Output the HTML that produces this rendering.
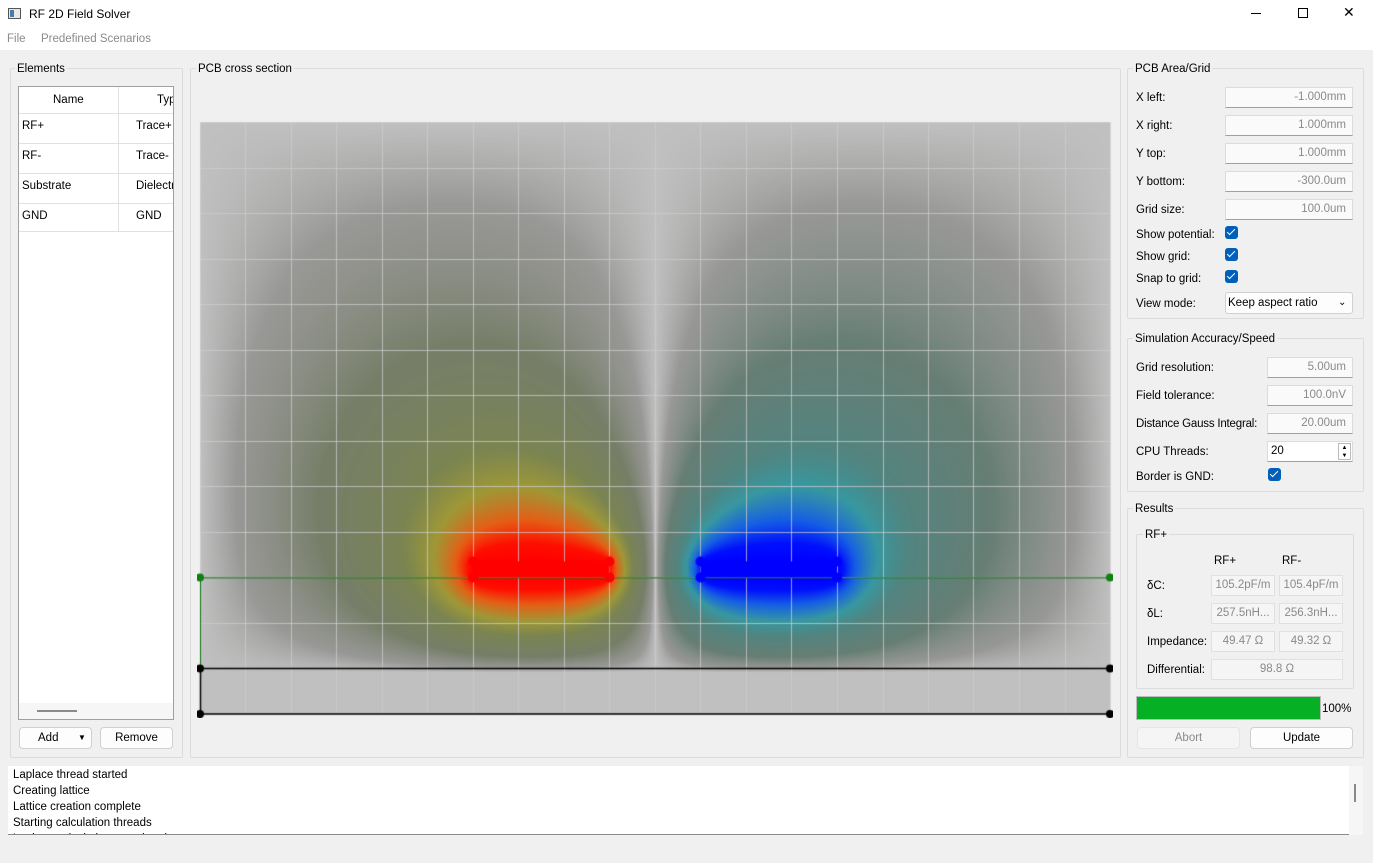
<!DOCTYPE html>
<html><head><meta charset="utf-8">
<style>
*{box-sizing:border-box}
body{margin:0;width:1373px;height:863px;background:#f0f0f0;font-family:"Liberation Sans",sans-serif;font-size:11.5px;color:#000;position:relative;overflow:hidden}
.a{position:absolute}
.grp{position:absolute;border:1px solid #dcdcdc;border-radius:2px}
.gt{position:absolute;background:#f0f0f0;padding:0 2px;font-size:11.5px;line-height:14px}
.inp{position:absolute;height:21px;border:1px solid #dcdcdc;background:#fafafa;color:#8a8a8a;text-align:right;padding:3px 6px 0 0;font-size:11.5px;border-bottom:1px solid #a0a0a0}
.lbl{position:absolute;font-size:11.5px;line-height:14px}
.cb{position:absolute;width:13px;height:13px;background:#005fb8;border-radius:3px}
.cb:after{content:"";position:absolute;left:4px;top:1px;width:3px;height:7px;border:solid #fff;border-width:0 1.5px 1.5px 0;transform:rotate(45deg)}
.btn{position:absolute;height:22px;border:1px solid #d0d0d0;border-radius:4px;background:#fdfdfd;text-align:center;line-height:20px;font-size:11.5px}
.res{position:absolute;height:21px;width:64px;border:1px solid #e0e0e0;background:#f5f5f5;color:#8a8a8a;text-align:center;line-height:19px;white-space:nowrap;overflow:hidden}
</style></head><body>
<div class="a" style="left:0;top:0;width:1373px;height:29px;background:#fff">
  <div class="a" style="left:8px;top:8px;width:13px;height:11px;border:1px solid #555;background:#e8e8e8"><div class="a" style="left:1px;top:1px;width:4px;height:7px;background:#4a7aa8"></div></div>
  <div class="a" style="left:29px;top:7px;font-size:12px">RF 2D Field Solver</div>
  <div class="a" style="left:1251px;top:13px;width:10px;height:1px;background:#000"></div>
  <div class="a" style="left:1298px;top:8px;width:10px;height:10px;border:1px solid #000"></div>
  <div class="a" style="left:1343px;top:4px;font-size:14px">✕</div>
</div>
<div class="a" style="left:0;top:29px;width:1373px;height:21px;background:#fff">
  <div class="a" style="left:7px;top:4px;color:#8a8a8a">File</div>
  <div class="a" style="left:41px;top:4px;color:#8a8a8a">Predefined Scenarios</div>
</div>

<!-- Elements -->
<div class="grp" style="left:10px;top:68px;width:173px;height:690px"></div>
<div class="gt" style="left:15px;top:62px">Elements</div>
<div class="a" style="left:18px;top:86px;width:156px;height:634px;background:#fff;border:1px solid #a0a0a0;overflow:hidden;white-space:nowrap">
  <div class="a" style="left:0;top:0;width:156px;height:27px;border-bottom:1px solid #e0e0e0"></div>
  <div class="a" style="left:99px;top:0;width:1px;height:145px;background:#e0e0e0"></div>
  <div class="a" style="left:34px;top:7px">Name</div>
  <div class="a" style="left:138px;top:7px">Typ</div>
  <div class="a" style="left:0;top:27px;width:156px;height:30px;border-bottom:1px solid #e0e0e0"><span class="a" style="left:3px;top:6px">RF+</span><span class="a" style="left:117px;top:6px">Trace+</span></div>
  <div class="a" style="left:0;top:57px;width:156px;height:30px;border-bottom:1px solid #e0e0e0"><span class="a" style="left:3px;top:6px">RF-</span><span class="a" style="left:117px;top:6px">Trace-</span></div>
  <div class="a" style="left:0;top:87px;width:156px;height:30px;border-bottom:1px solid #e0e0e0"><span class="a" style="left:3px;top:6px">Substrate</span><span class="a" style="left:117px;top:6px">Dielectric</span></div>
  <div class="a" style="left:0;top:117px;width:156px;height:28px;border-bottom:1px solid #e0e0e0"><span class="a" style="left:3px;top:6px">GND</span><span class="a" style="left:117px;top:6px">GND</span></div>
  <div class="a" style="left:0;top:616px;width:156px;height:16px;background:#f6f6f6"><div class="a" style="left:18px;top:7px;width:40px;height:2px;background:#8a8a8a"></div></div>
</div>
<div class="btn" style="left:19px;top:727px;width:73px;text-align:left;padding-left:18px">Add<span class="a" style="left:58px;top:0;font-size:8px">▼</span></div>
<div class="btn" style="left:100px;top:727px;width:73px">Remove</div>

<!-- PCB cross section -->
<div class="grp" style="left:190px;top:68px;width:931px;height:690px"></div>
<div class="gt" style="left:196px;top:62px">PCB cross section</div>
<canvas id="cv" class="a" width="916" height="600" style="left:197px;top:118px"></canvas>

<!-- PCB Area/Grid -->
<div class="grp" style="left:1127px;top:68px;width:237px;height:251px"></div>
<div class="gt" style="left:1133px;top:62px">PCB Area/Grid</div>
<div class="lbl" style="left:1136px;top:91px">X left:</div>
<div class="inp" style="left:1225px;top:87px;width:128px">-1.000mm</div>
<div class="lbl" style="left:1136px;top:119px">X right:</div>
<div class="inp" style="left:1225px;top:115px;width:128px">1.000mm</div>
<div class="lbl" style="left:1136px;top:147px">Y top:</div>
<div class="inp" style="left:1225px;top:143px;width:128px">1.000mm</div>
<div class="lbl" style="left:1136px;top:175px">Y bottom:</div>
<div class="inp" style="left:1225px;top:171px;width:128px">-300.0um</div>
<div class="lbl" style="left:1136px;top:203px">Grid size:</div>
<div class="inp" style="left:1225px;top:199px;width:128px">100.0um</div>
<div class="lbl" style="left:1136px;top:228px">Show potential:</div>
<div class="cb" style="left:1225px;top:226px"></div>
<div class="lbl" style="left:1136px;top:250px">Show grid:</div>
<div class="cb" style="left:1225px;top:248px"></div>
<div class="lbl" style="left:1136px;top:272px">Snap to grid:</div>
<div class="cb" style="left:1225px;top:270px"></div>
<div class="lbl" style="left:1136px;top:297px">View mode:</div>
<div class="btn" style="left:1225px;top:292px;width:128px;height:22px;text-align:left;padding-left:2px;line-height:20px;border-radius:3px">Keep aspect ratio<span class="a" style="left:112px;top:0;font-size:10px">⌄</span></div>

<!-- Simulation -->
<div class="grp" style="left:1127px;top:338px;width:237px;height:154px"></div>
<div class="gt" style="left:1133px;top:332px">Simulation Accuracy/Speed</div>
<div class="lbl" style="left:1136px;top:361px">Grid resolution:</div>
<div class="inp" style="left:1267px;top:357px;width:86px">5.00um</div>
<div class="lbl" style="left:1136px;top:389px">Field tolerance:</div>
<div class="inp" style="left:1267px;top:385px;width:86px">100.0nV</div>
<div class="lbl" style="left:1136px;top:417px;letter-spacing:-0.2px">Distance Gauss Integral:</div>
<div class="inp" style="left:1267px;top:413px;width:86px">20.00um</div>
<div class="lbl" style="left:1136px;top:445px">CPU Threads:</div>
<div class="inp" style="left:1267px;top:441px;width:86px;text-align:left;padding-left:3px;color:#000;background:#fff">20<span class="a" style="left:70px;top:1px;width:13px;height:17px;border:1px solid #bbb;font-size:6px;line-height:8px;text-align:center">▲<br>▼</span></div>
<div class="lbl" style="left:1136px;top:470px">Border is GND:</div>
<div class="cb" style="left:1268px;top:468px"></div>

<!-- Results -->
<div class="grp" style="left:1127px;top:508px;width:237px;height:250px"></div>
<div class="gt" style="left:1133px;top:502px">Results</div>
<div class="grp" style="left:1136px;top:534px;width:218px;height:155px"></div>
<div class="gt" style="left:1143px;top:528px">RF+</div>
<div class="lbl" style="left:1214px;top:554px">RF+</div>
<div class="lbl" style="left:1282px;top:554px">RF-</div>
<div class="lbl" style="left:1147px;top:579px">δC:</div>
<div class="res" style="left:1211px;top:575px">105.2pF/m</div>
<div class="res" style="left:1279px;top:575px">105.4pF/m</div>
<div class="lbl" style="left:1147px;top:607px">δL:</div>
<div class="res" style="left:1211px;top:603px">257.5nH...</div>
<div class="res" style="left:1279px;top:603px">256.3nH...</div>
<div class="lbl" style="left:1147px;top:635px">Impedance:</div>
<div class="res" style="left:1211px;top:631px">49.47 Ω</div>
<div class="res" style="left:1279px;top:631px">49.32 Ω</div>
<div class="lbl" style="left:1147px;top:663px">Differential:</div>
<div class="res" style="left:1211px;top:659px;width:132px">98.8 Ω</div>
<div class="a" style="left:1136px;top:696px;width:185px;height:24px;border:1px solid #bcbcbc;background:#06b025"></div>
<div class="lbl" style="left:1322px;top:702px">100%</div>
<div class="btn" style="left:1137px;top:727px;width:103px;background:#f5f5f5;border-color:#e5e5e5;color:#8a8a8a">Abort</div>
<div class="btn" style="left:1250px;top:727px;width:103px">Update</div>

<!-- Log -->
<div class="a" style="left:8px;top:766px;width:1341px;height:69px;background:#fff;border-bottom:1px solid #8a8a8a;overflow:hidden;line-height:16px;padding:1px 0 0 5px">
Laplace thread started<br>Creating lattice<br>Lattice creation complete<br>Starting calculation threads<br>Laplace calculation completed</div>
<div class="a" style="left:1349px;top:766px;width:14px;height:69px;background:#f6f6f6"><div class="a" style="left:5px;top:18px;width:2px;height:18px;background:#8a8a8a"></div></div>

<script>
// Geometry (mm)
const xRange=[-1,1];
const yRange=[1.0,-0.3];
const traceNames=['RF+','RF-'];
const traceX0=[-0.4,0.1];
const traceX1=[-0.1,0.4];
const traceY0=[0,0];
const traceY1=[0.035,0.035];
const tracePot=[1,-1];
const dielectricTop=0;
const gndTop=-0.2;
const gndBottom=-0.3;
const gridStep=0.1;

const cv=document.getElementById('cv');
const ctx=cv.getContext('2d');
const OX=197,OY=118;
const PX0=200-OX,PX1=1110-OX,PY0=122-OY,PY1=714-OY;
function sx(x){return PX0+(x-xRange[0])/(xRange[1]-xRange[0])*(PX1-PX0);}
function sy(y){return PY0+(yRange[0]-y)/(yRange[0]-yRange[1])*(PY1-PY0);}

// Solve Laplace on coarse grid
const C=5;
const NX=Math.round((PX1-PX0)/C)+1, NY=Math.round((PY1-PY0)/C)+1;
const V=new Float32Array(NX*NY), fixed=new Uint8Array(NX*NY);
for(let j=0;j<NY;j++)for(let i=0;i<NX;i++){
  const px=PX0+i*C,py=PY0+j*C,k=j*NX+i;
  if(i==0||j==0||i==NX-1||j==NY-1||py>=sy(gndTop)){fixed[k]=1;V[k]=0;continue;}
  for(let t=0;t<traceNames.length;t++){
    if(px>=sx(traceX0[t])&&px<=sx(traceX1[t])&&py>=sy(traceY1[t])-1&&py<=sy(traceY0[t])+1){fixed[k]=1;V[k]=tracePot[t];}
  }
}
for(let it=0;it<900;it++){
  for(let j=1;j<NY-1;j++)for(let i=1;i<NX-1;i++){
    const k=j*NX+i;if(fixed[k])continue;
    const n=(V[k-1]+V[k+1]+V[k-NX]+V[k+NX])*0.25;
    V[k]+=1.9*(n-V[k]);
  }
}
const posMap=[[0,192,192,192],[0.04,152,152,150],[0.15,118,126,104],[0.35,122,132,82],[0.5,158,152,55],[0.68,228,95,22],[0.85,255,15,0],[1,255,0,0]];
const negMap=[[0,192,192,192],[0.04,152,152,150],[0.15,102,126,116],[0.35,82,132,128],[0.5,55,152,160],[0.68,22,95,228],[0.85,0,15,255],[1,0,0,255]];
function cmap(v){
  const m=v>=0?posMap:negMap;const a=Math.min(1,Math.abs(v));
  for(let i=1;i<m.length;i++){if(a<=m[i][0]){const f=(a-m[i-1][0])/(m[i][0]-m[i-1][0]);
    return [0,1,2].map(c=>m[i-1][c+1]+(m[i][c+1]-m[i-1][c+1])*f);}}
  return m[m.length-1].slice(1);
}
const W=PX1-PX0,H=PY1-PY0;
const img=ctx.createImageData(W,H);
for(let y=0;y<H;y++)for(let x=0;x<W;x++){
  const gx=x/C,gy=y/C,i=Math.min(NX-2,Math.floor(gx)),j=Math.min(NY-2,Math.floor(gy)),fx=gx-i,fy=gy-j;
  const v=V[j*NX+i]*(1-fx)*(1-fy)+V[j*NX+i+1]*fx*(1-fy)+V[(j+1)*NX+i]*(1-fx)*fy+V[(j+1)*NX+i+1]*fx*fy;
  const c=cmap(v);const o=(y*W+x)*4;
  img.data[o]=c[0];img.data[o+1]=c[1];img.data[o+2]=c[2];img.data[o+3]=255;
}
ctx.putImageData(img,PX0,PY0);
// grid
ctx.strokeStyle='rgba(205,205,205,0.75)';ctx.lineWidth=1;
for(let x=xRange[0];x<=xRange[1]+1e-9;x+=gridStep){const p=Math.round(sx(x))+0.5;ctx.beginPath();ctx.moveTo(p,PY0);ctx.lineTo(p,PY1);ctx.stroke();}
for(let y=yRange[1];y<=yRange[0]+1e-9;y+=gridStep){const p=Math.round(sy(y))+0.5;ctx.beginPath();ctx.moveTo(PX0,p);ctx.lineTo(PX1,p);ctx.stroke();}
function dot(x,y,c,r){ctx.fillStyle=c;ctx.beginPath();ctx.arc(x,y,r||4,0,7);ctx.fill();}
// dielectric
ctx.strokeStyle='#107010';ctx.lineWidth=1;ctx.beginPath();ctx.moveTo(sx(xRange[0]),sy(dielectricTop)+0.5);ctx.lineTo(sx(xRange[1]),sy(dielectricTop)+0.5);ctx.moveTo(sx(xRange[0])+0.5,sy(dielectricTop));ctx.lineTo(sx(xRange[0])+0.5,sy(gndTop));ctx.stroke();
dot(sx(xRange[0]),sy(dielectricTop),'#108010');dot(sx(xRange[1]),sy(dielectricTop),'#108010');
// GND
ctx.strokeStyle='#000';ctx.lineWidth=1.5;
[gndTop,gndBottom].forEach(y=>{ctx.beginPath();ctx.moveTo(sx(xRange[0]),sy(y));ctx.lineTo(sx(xRange[1]),sy(y));ctx.stroke();dot(sx(xRange[0]),sy(y),'#000');dot(sx(xRange[1]),sy(y),'#000');});
ctx.beginPath();ctx.moveTo(sx(xRange[0])+0.5,sy(gndTop));ctx.lineTo(sx(xRange[0])+0.5,sy(gndBottom));ctx.stroke();
// traces
for(let t=0;t<traceNames.length;t++){
  const c=tracePot[t]>0?'#ff0000':'#0000ff';
  ctx.fillStyle=c;const x0=sx(traceX0[t]),x1=sx(traceX1[t]),y0=sy(traceY1[t]),y1=sy(traceY0[t]);
  ctx.fillRect(x0,y0,x1-x0,y1-y0);
  dot(x0,y0,c,5);dot(x1,y0,c,5);dot(x0,y1,c,5);dot(x1,y1,c,5);
}


</script>
</body></html>
